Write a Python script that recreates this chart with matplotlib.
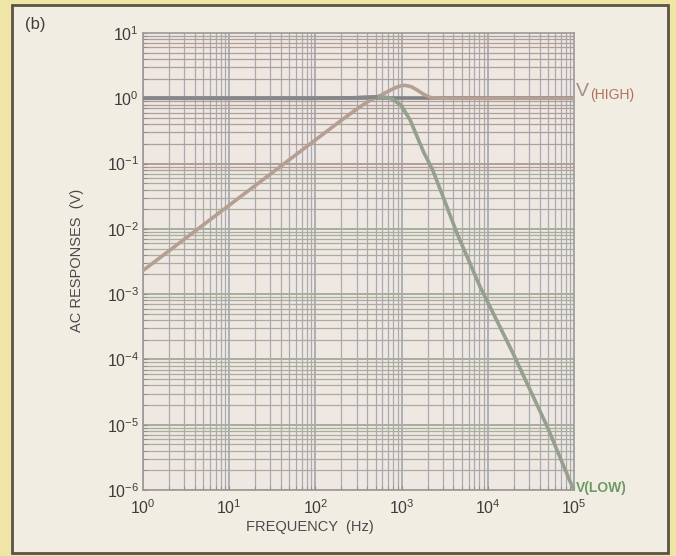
import numpy as np
import matplotlib
matplotlib.use("Agg")
import matplotlib.pyplot as plt
from matplotlib.patches import Rectangle
from matplotlib.ticker import LogLocator, FuncFormatter, NullFormatter

plt.rcParams['font.family'] = ['Liberation Sans', 'DejaVu Sans']
plt.rcParams['mathtext.default'] = 'regular'
plt.rcParams['axes.unicode_minus'] = False

# Data
freq_high = [1, 10, 100, 200, 300, 400, 500, 600, 700, 800, 900, 1000, 1100,
             1300, 1500, 1800, 2200, 3000, 1e4, 1e5]
v_high = [2.3e-3, 2.3e-2, 0.23, 0.46, 0.68, 0.88, 1.02, 1.15, 1.28, 1.40, 1.50,
          1.56, 1.58, 1.50, 1.35, 1.15, 1.02, 1.0, 1.0, 1.0]

freq_low = [1, 10, 100, 300, 500, 650, 800, 1000, 1260, 1510, 1800, 2290, 3000,
            4370, 8130, 19500, 49000, 89000, 1e5]
v_low = [1.0, 1.0, 1.0, 1.02, 1.05, 1.04, 0.96, 0.76, 0.46, 0.26, 0.15, 0.08,
         0.032, 8.7e-3, 1.3e-3, 1.26e-4, 9.3e-6, 1.4e-6, 1.0e-6]

x_range = [1, 1e5]
y_range = [1e-6, 1e1]

fig = plt.figure(figsize=(6.76, 5.56), dpi=100)
fig.patch.set_facecolor('#efe5a6')
frame = Rectangle((12 / 676, 3 / 556), 656 / 676, 548 / 556,
                  transform=fig.transFigure, facecolor='#f2ede3',
                  edgecolor='#5b5344', linewidth=2.0, zorder=-10)
fig.add_artist(frame)

ax = fig.add_axes([143 / 676, 1 - 490 / 556, 431 / 676, 457 / 556])
ax.set_zorder(1)
ax.set_facecolor('#efe7e2')
ax.set_xscale('log')
ax.set_yscale('log')
ax.set_xlim(*x_range)
ax.set_ylim(*y_range)

# grid drawn manually for the coloured look of the scan
for dec in range(0, 5):
    for m in range(1, 10):
        xv = m * 10.0 ** dec
        ax.axvline(xv, color='#a9aab3', lw=1.3 if m == 1 else 0.9, zorder=1)
for dec in range(-6, 1):
    for m in range(1, 10):
        yv = m * 10.0 ** dec
        col = '#ae9f97' if yv >= 0.08 else '#a8ae9c'
        ax.axhline(yv, color=col, lw=1.4 if m == 1 else 0.9, zorder=1)
ax.axhline(1.0, color='#808185', lw=2.6, zorder=2)

ax.plot(freq_high, v_high, color='#b59f93', lw=2.6, zorder=3, solid_capstyle='round')
ax.plot(freq_low, v_low, color='#96a08f', lw=2.6, zorder=3, solid_capstyle='round')
ax.plot([f for f in freq_low if f <= 600], [v for f, v in zip(freq_low, v_low) if f <= 600],
        color='#85878a', lw=2.6, zorder=3)

fmt = FuncFormatter(lambda v, p: r'$10^{%d}$' % int(round(np.log10(v))))
ax.xaxis.set_major_locator(LogLocator(base=10, numticks=10))
ax.yaxis.set_major_locator(LogLocator(base=10, numticks=10))
ax.xaxis.set_major_formatter(fmt)
ax.yaxis.set_major_formatter(fmt)
ax.xaxis.set_minor_formatter(NullFormatter())
ax.yaxis.set_minor_formatter(NullFormatter())
ax.tick_params(axis='both', which='both', direction='in', colors='#8a8a8a',
               labelcolor='#3d3d3d', labelsize=11.5, length=3)
ax.tick_params(axis='x', pad=6)
ax.tick_params(axis='y', pad=3)
ax.xaxis.label.set_visible(False)
ax.yaxis.label.set_visible(False)

for s in ax.spines.values():
    s.set_color('#9a9a9a')
    s.set_linewidth(1.2)

fig.text(310 / 676, 1 - 527 / 556, 'FREQUENCY  (Hz)', ha='center', va='center',
         fontsize=10.5, color='#4a4a4a')
fig.text(77 / 676, 1 - 260 / 556, 'AC RESPONSES  (V)', ha='center', va='center',
         rotation=90, fontsize=10.5, color='#4a4a4a')
fig.text(35 / 676, 1 - 25 / 556, '(b)', ha='center', va='center', fontsize=12,
         color='#3f3f3f')

fig.text(576 / 676, 1 - 92 / 556, 'V', ha='left', va='center', fontsize=14,
         color='#a68d80')
fig.text(590 / 676, 1 - 95 / 556, '(HIGH)', ha='left', va='center', fontsize=10,
         color='#b0705f')
fig.text(576 / 676, 1 - 488 / 556, 'V(LOW)', ha='left', va='center', fontsize=10,
         color='#6f9a68', fontweight='bold')

fig.savefig('out.png', dpi=100, facecolor=fig.get_facecolor())
